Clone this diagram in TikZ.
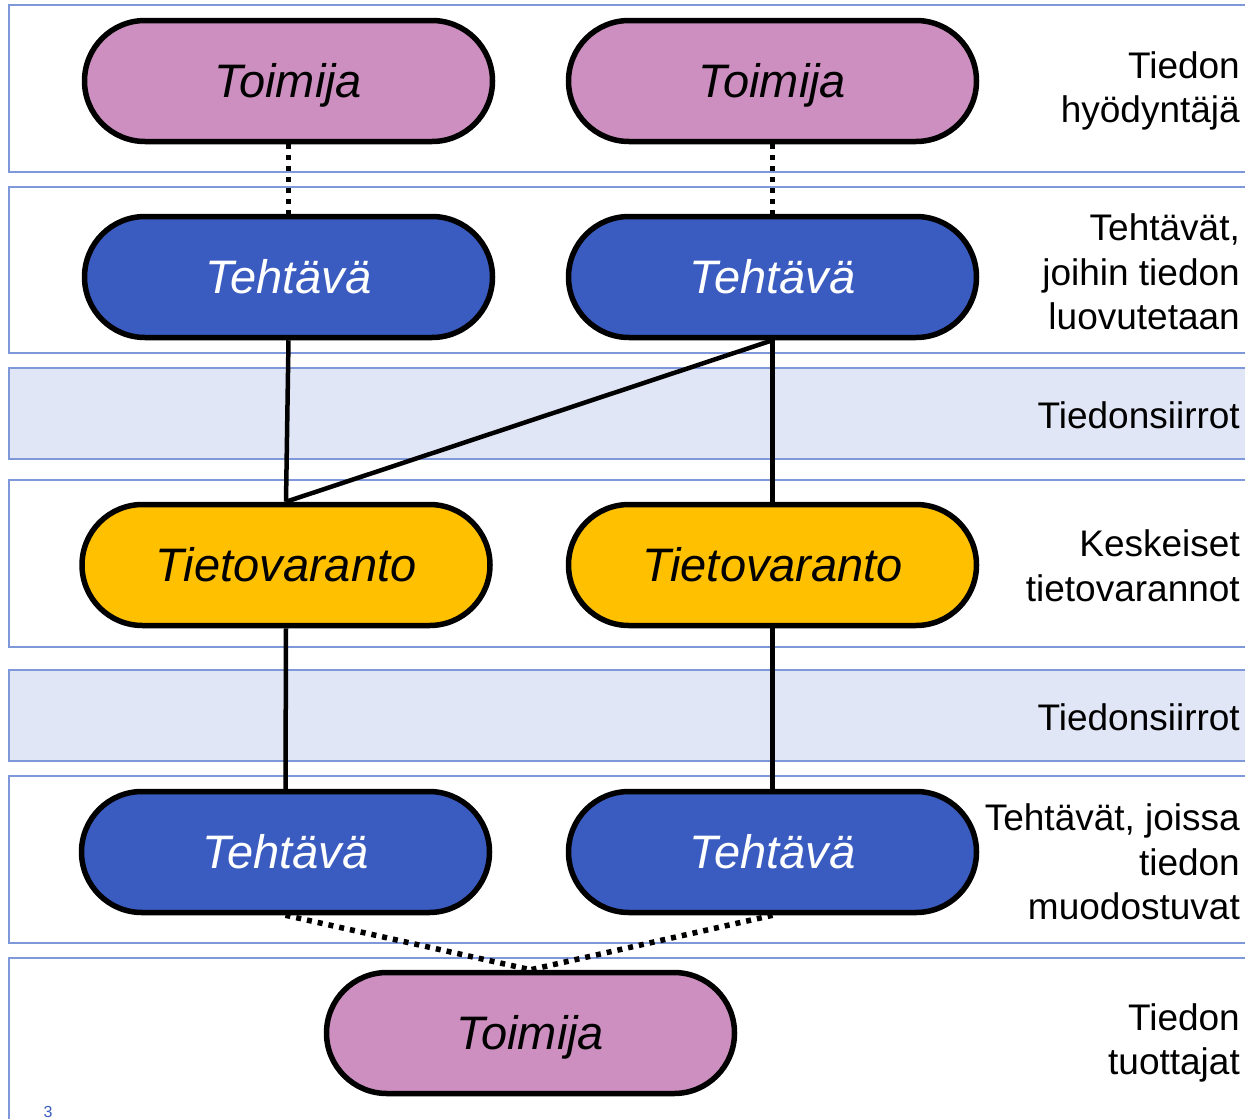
\documentclass[tikz,border=0pt]{standalone}
\usepackage{fontspec}
\setmainfont{Liberation Sans}
\usetikzlibrary{shapes.misc}
\definecolor{bandline}{RGB}{127,152,218}
\definecolor{bandfill}{RGB}{224,230,245}
\definecolor{pinkfill}{RGB}{204,143,192}
\definecolor{bluefill}{RGB}{58,91,191}
\definecolor{yellowfill}{RGB}{255,192,0}
\definecolor{pagenum}{RGB}{58,91,191}
\tikzset{
  band/.style={draw=bandline, line width=2pt},
  fband/.style={band, fill=bandfill},
  pill/.style={rounded rectangle, draw=black, line width=5.5pt, minimum width=408pt, minimum height=121pt, inner sep=0pt,
    text height=33pt, text depth=0pt, font=\fontsize{47}{56}\selectfont\itshape},
  actor/.style={pill, fill=pinkfill, text=black},
  task/.style={pill, fill=bluefill, text=white},
  store/.style={pill, fill=yellowfill, text=black},
  lbl/.style={anchor=east, align=right, inner sep=0pt, font=\fontsize{37}{44.5}\selectfont},
  solidlink/.style={line width=4.5pt},
  dotlink/.style={line width=5.5pt, dash pattern=on 5pt off 6pt}
}
\begin{document}
\begin{tikzpicture}[x=1pt, y=-1pt]
\useasboundingbox (0,0) rectangle (1245,1119);
% bands
\draw[band] (1260,5) -- (9,5) -- (9,172) -- (1260,172);
\draw[band] (1260,187) -- (9,187) -- (9,353) -- (1260,353);
\draw[fband] (1260,368) -- (9,368) -- (9,459) -- (1260,459);
\draw[band] (1260,480) -- (9,480) -- (9,647) -- (1260,647);
\draw[fband] (1260,670) -- (9,670) -- (9,761) -- (1260,761);
\draw[band] (1260,776) -- (9,776) -- (9,943) -- (1260,943);
\draw[band] (1260,958) -- (9,958) -- (9,1130);
% nodes
\node[actor] (a1) at (288.5,81) {Toimija};
\node[actor] (a2) at (772.5,81) {Toimija};
\node[task] (t1) at (288.5,277) {Tehtävä};
\node[task] (t2) at (772.5,277) {Tehtävä};
\node[store] (s1) at (286,565) {Tietovaranto};
\node[store] (s2) at (772.5,565) {Tietovaranto};
\node[task] (u1) at (285.5,852) {Tehtävä};
\node[task] (u2) at (772.5,852) {Tehtävä};
\node[actor] (b) at (530.5,1033) {Toimija};
% connectors
\draw[dotlink] (a1.south) -- (t1.north);
\draw[dotlink] (a2.south) -- (t2.north);
\draw[solidlink] (t1.south) -- (s1.north);
\draw[solidlink] (t2.south) -- (s1.north);
\draw[solidlink] (t2.south) -- (s2.north);
\draw[solidlink] (s1.south) -- (u1.north);
\draw[solidlink] (s2.south) -- (u2.north);
\draw[dotlink] (u1.south) -- (b.north);
\draw[dotlink] (u2.south) -- (b.north);
% labels
\node[lbl] (l1) at (1240,91) {Tiedon\\hyödyntäjä};
\node[lbl] (l2) at (1240,272) {Tehtävät,\\joihin tiedon\\luovutetaan};
\node[lbl] (l3) at (1240,415) {Tiedonsiirrot};
\node[lbl] (l4) at (1240,566) {Keskeiset\\tietovarannot};
\node[lbl] (l5) at (1240,717) {Tiedonsiirrot};
\node[lbl] (l6) at (1240,862) {Tehtävät, joissa\\tiedon\\muodostuvat};
\node[lbl] (l7) at (1240,1043) {Tiedon\\tuottajat};
\node[anchor=south, inner sep=0pt, text=pagenum, font=\fontsize{16}{19}\selectfont] (pn) at (48,1118) {3};
\end{tikzpicture}
\end{document}
